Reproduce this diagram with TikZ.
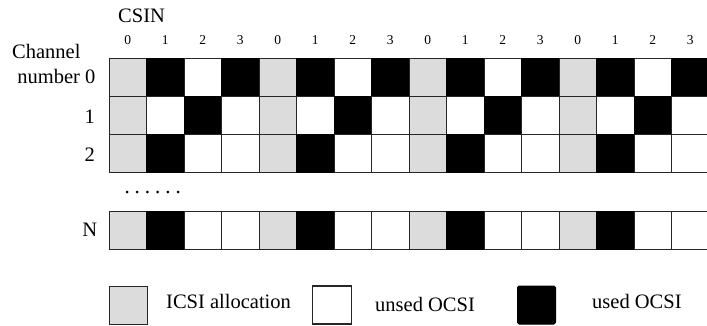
\documentclass[tikz,border=0pt]{standalone}
\usepackage{fontspec}
\setmainfont{Liberation Serif}
\begin{document}
\begin{tikzpicture}[x=1pt,y=-1pt,
  cell/.style={draw=black!85,line width=1pt,minimum width=37.5pt,minimum height=38pt,inner sep=0pt,anchor=north west,outer sep=0pt},
  gcell/.style={cell,fill=icsigray},
  bcell/.style={cell,fill=black,draw=black},
  wcell/.style={cell,fill=white},
  lab/.style={font=\fontsize{20.5}{24}\selectfont,inner sep=0pt},
  dig/.style={font=\fontsize{13.5}{16}\selectfont,inner sep=0pt,anchor=base}]
\definecolor{icsigray}{RGB}{220,220,220}
\clip (0,0) rectangle (707,326);
\fill[white] (0,0) rectangle (707,326);
% column numbers
\foreach \k in {0,...,15}{
  \pgfmathtruncatemacro{\d}{mod(\k,4)}
  \node[dig] (d\k) at ({109+37.5*\k+18.75},45) {\d};
}
\node[lab,anchor=base west] (csin) at (118,23) {CSIN};
\node[lab,anchor=base west] (chan) at (12,59) {Channel};
\node[lab,anchor=base east] (r0) at (95.5,84) {number 0};
\node[lab,anchor=base east] (r1) at (95,124) {1};
\node[lab,anchor=base east] (r2) at (95,162) {2};
\node[lab,anchor=base east] (rN) at (97.5,236) {N};
% rows: patterns
\foreach \row/\y/\pat in {0/59/{g,b,w,b},1/97/{g,w,b,w},2/135/{g,b,w,w},3/211/{g,b,w,w}}{
  \foreach \rep in {0,...,3}{
    \foreach \t [count=\j from 0] in \pat {
      \pgfmathsetmacro{\xx}{109+37.5*(4*\rep+\j)}
      \node[\t cell] (c\row-\rep-\j) at (\xx,\y) {};
    }
  }
}
% dots
\foreach \i in {0,...,5}
  \fill (127+10.2*\i,192) circle (1.5);
% legend
\node[gcell,minimum width=38pt] (lg) at (109,286) {};
\node[lab,anchor=base west] (lgt) at (166,308) {ICSI allocation};
\node[wcell,minimum width=39pt,line width=1.2pt] (lw) at (312.5,286) {};
\node[lab,anchor=base west] (lwt) at (375,311.5) {unsed OCSI};
\node[bcell,minimum width=38pt,rounded corners=1.5pt] (lb) at (517.5,286) {};
\node[lab,anchor=base west] (lbt) at (592,308) {used OCSI};
\end{tikzpicture}
\end{document}
